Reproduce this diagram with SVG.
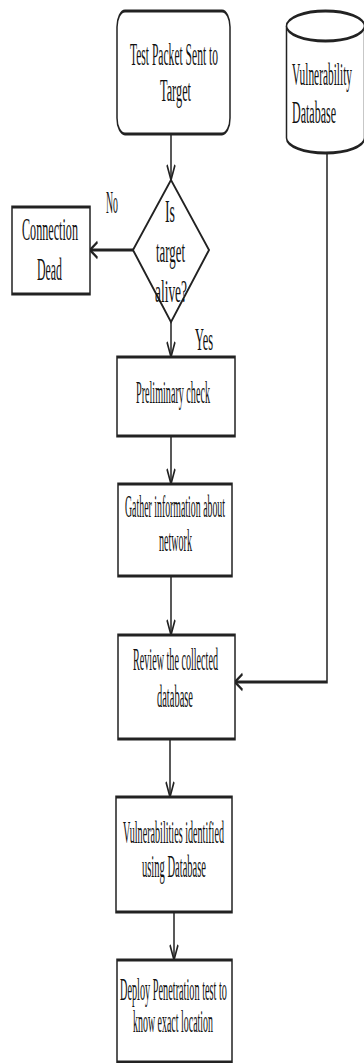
<svg xmlns="http://www.w3.org/2000/svg" width="364" height="1063" viewBox="0 0 364 1063">
<defs>
<style>
.s{fill:#fff;stroke:#222;stroke-width:3}
.c{fill:none;stroke:#222;stroke-width:3}
text{font-family:"Liberation Serif","Times New Roman",serif;font-size:31px;fill:#111}
</style>
<marker id="ah" markerUnits="userSpaceOnUse" markerWidth="20" markerHeight="20" viewBox="-2 -10 20 20" refX="15" refY="0" orient="auto">
<path d="M0,-8 L15,0 L0,8" fill="none" stroke="#222" stroke-width="3"/>
</marker>
</defs>
<rect width="364" height="1063" fill="#fff"/>
<g id="connectors" transform="scale(0.5 1)">
<path class="c" d="M342,134 V180" marker-end="url(#ah)"/>
<path class="c" d="M266,250 H180" marker-end="url(#ah)"/>
<path class="c" d="M342,322 V357" marker-end="url(#ah)"/>
<path class="c" d="M342,436 V484" marker-end="url(#ah)"/>
<path class="c" d="M342,576 V635" marker-end="url(#ah)"/>
<path class="c" d="M340,739 V797" marker-end="url(#ah)"/>
<path class="c" d="M348,912 V960" marker-end="url(#ah)"/>
<path class="c" d="M654,153 V682 H470" marker-end="url(#ah)"/>
</g>
<g id="start">
<rect class="s" transform="scale(0.5 1)" x="234" y="11" width="226" height="123" rx="16" ry="16"/>
<text x="130" y="65" textLength="88" lengthAdjust="spacingAndGlyphs">Test Packet Sent to</text>
<text x="160" y="101" textLength="31" lengthAdjust="spacingAndGlyphs">Target</text>
</g>
<g id="vulndb">
<g transform="scale(0.5 1)">
<path class="s" d="M573,26 V138 A78,15 0 0 0 729,138 V26"/>
<ellipse class="s" cx="651" cy="26" rx="78" ry="15"/>
</g>
<text x="292" y="85" textLength="60" lengthAdjust="spacingAndGlyphs">Vulnerability</text>
<text x="292" y="123" textLength="44" lengthAdjust="spacingAndGlyphs">Database</text>
</g>
<g id="decision">
<polygon class="s" transform="scale(0.5 1)" points="342,180 418,250 342,322 266,250"/>
<text x="165" y="222" textLength="10" lengthAdjust="spacingAndGlyphs">Is</text>
<text x="156" y="262" textLength="29" lengthAdjust="spacingAndGlyphs">target</text>
<text x="155" y="302" textLength="32" lengthAdjust="spacingAndGlyphs">alive?</text>
</g>
<g id="labels">
<text x="106" y="213" textLength="12" lengthAdjust="spacingAndGlyphs">No</text>
<text x="195" y="350" textLength="18" lengthAdjust="spacingAndGlyphs">Yes</text>
</g>
<g id="dead">
<rect class="s" transform="scale(0.5 1)" x="24" y="207" width="156" height="87"/>
<text x="22" y="240" textLength="56" lengthAdjust="spacingAndGlyphs">Connection</text>
<text x="37" y="280" textLength="25" lengthAdjust="spacingAndGlyphs">Dead</text>
</g>
<g id="prelim">
<rect class="s" transform="scale(0.5 1)" x="234" y="357" width="236" height="79"/>
<text x="136" y="403" textLength="74" lengthAdjust="spacingAndGlyphs">Preliminary check</text>
</g>
<g id="gather">
<rect class="s" transform="scale(0.5 1)" x="236" y="484" width="228" height="92"/>
<text x="125" y="517" textLength="100" lengthAdjust="spacingAndGlyphs">Gather information about</text>
<text x="159" y="551" textLength="33" lengthAdjust="spacingAndGlyphs">network</text>
</g>
<g id="review">
<rect class="s" transform="scale(0.5 1)" x="236" y="635" width="234" height="104"/>
<text x="133" y="670" textLength="85" lengthAdjust="spacingAndGlyphs">Review the collected</text>
<text x="157" y="707" textLength="36" lengthAdjust="spacingAndGlyphs">database</text>
</g>
<g id="identified">
<rect class="s" transform="scale(0.5 1)" x="232" y="797" width="232" height="115"/>
<text x="123" y="843" textLength="101" lengthAdjust="spacingAndGlyphs">Vulnerabilities identified</text>
<text x="142" y="877" textLength="64" lengthAdjust="spacingAndGlyphs">using Database</text>
</g>
<g id="deploy">
<rect class="s" transform="scale(0.5 1)" x="234" y="960" width="230" height="102"/>
<text x="120" y="1000" textLength="107" lengthAdjust="spacingAndGlyphs">Deploy Penetration test to</text>
<text x="133" y="1032" textLength="80" lengthAdjust="spacingAndGlyphs">know exact location</text>
</g>
</svg>
